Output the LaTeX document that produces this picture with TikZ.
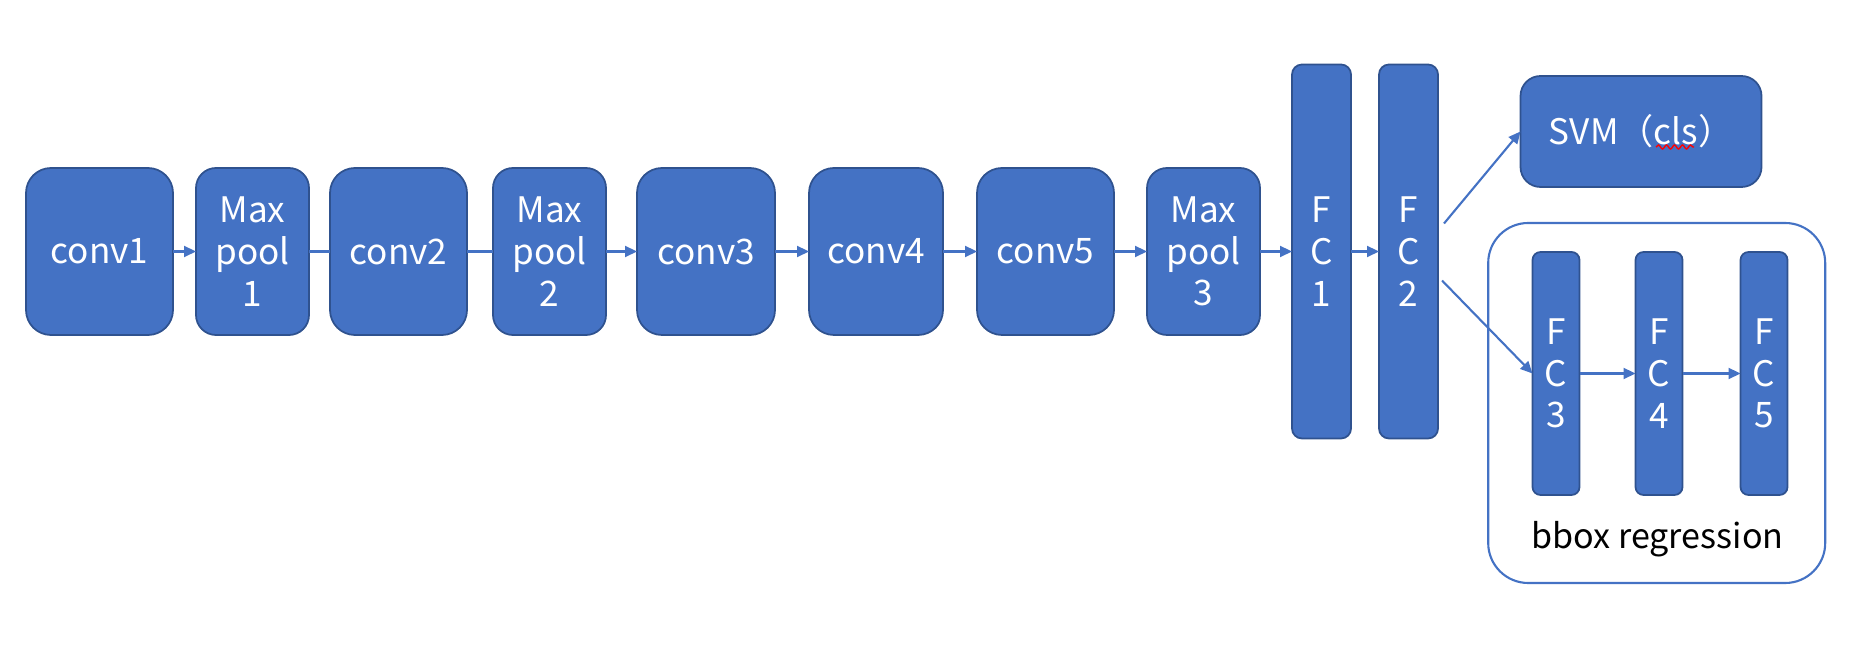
\documentclass[tikz,border=0pt]{standalone}
\usepackage{fontspec}
\setmainfont{Noto Sans CJK SC}
\usetikzlibrary{arrows.meta,positioning,calc,decorations.pathmorphing}
\definecolor{officeblue}{HTML}{4472C4}
\definecolor{officeedge}{HTML}{2F528F}

\begin{document}
\begin{tikzpicture}[
  layer/.style={draw=officeedge,fill=officeblue,text=white,align=center,
                minimum height=1.67cm,inner sep=0pt,outer sep=0pt,line width=0.5pt,
                font=\fontsize{10}{11.9}\selectfont},
  conv/.style={layer,minimum width=1.38cm,rounded corners=0.25cm},
  pool/.style={layer,minimum width=1.13cm,rounded corners=0.2cm},
  fc/.style={layer,minimum width=0.59cm,minimum height=3.74cm,rounded corners=0.1cm},
  fcs/.style={layer,minimum width=0.47cm,minimum height=2.43cm,rounded corners=0.08cm},
  link/.style={draw=officeblue,line width=0.6pt},
  >={Triangle[length=0.12cm,width=0.11cm]},
  node distance=0.3cm]
\useasboundingbox (0,0) rectangle (18.56,-6.62);
% main row
\node[conv,minimum width=1.47cm,anchor=west] (c1) at (0.26,-2.515) {conv1};
\node[pool,right=0.23cm of c1] (p1) {Max\\pool\\1};
\node[conv,minimum width=1.37cm,right=0.21cm of p1] (c2) {conv2};
\node[pool,right=0.26cm of c2] (p2) {Max\\pool\\2};
\node[conv,right=0.31cm of p2] (c3) {conv3};
\node[conv,minimum width=1.34cm,right=0.34cm of c3] (c4) {conv4};
\node[conv,minimum width=1.37cm,right=0.34cm of c4] (c5) {conv5};
\node[pool,right=0.33cm of c5] (p3) {Max\\pool\\3};
\node[fc,right=0.32cm of p3] (f1) {F\\C\\1};
\node[fc,right=0.28cm of f1] (f2) {F\\C\\2};
% heads
\node[layer,minimum width=2.41cm,minimum height=1.11cm,rounded corners=0.2cm] (svm) at (16.41,-1.315) {SVM（cls）};
\node[draw=officeblue,rounded corners=0.4cm,minimum width=3.37cm,minimum height=3.6cm,line width=0.6pt] (grp) at (16.567,-4.03) {};
\node[fcs] (f3) at (15.56,-3.735) {F\\C\\3};
\node[fcs,right=0.56cm of f3] (f4) {F\\C\\4};
\node[fcs,right=0.58cm of f4] (f5) {F\\C\\5};
\node[font=\fontsize{9.7}{12}\selectfont] (lbl) at (16.575,-5.39) {bbox regression};
\draw[red,line width=0.4pt,decorate,decoration={snake,amplitude=0.2mm,segment length=0.8mm}] (16.56,-1.47) -- (16.94,-1.47);

\draw[link,->] (c1) -- (p1);
\draw[link] (p1) -- (c2);
\draw[link] (c2) -- (p2);
\draw[link,->] (p2) -- (c3);
\draw[link,->] (c3) -- (c4);
\draw[link,->] (c4) -- (c5);
\draw[link,->] (c5) -- (p3);
\draw[link,->] (p3) -- (f1);
\draw[link,->] (f1) -- (f2);
\draw[link,->] ([shift={(0.06,0.28)}]f2.east) -- (svm.west);
\draw[link,->] ([shift={(0.04,-0.29)}]f2.east) -- (f3.west);
\draw[link,->] (f3) -- (f4);
\draw[link,->] (f4) -- (f5);
\end{tikzpicture}
\end{document}
